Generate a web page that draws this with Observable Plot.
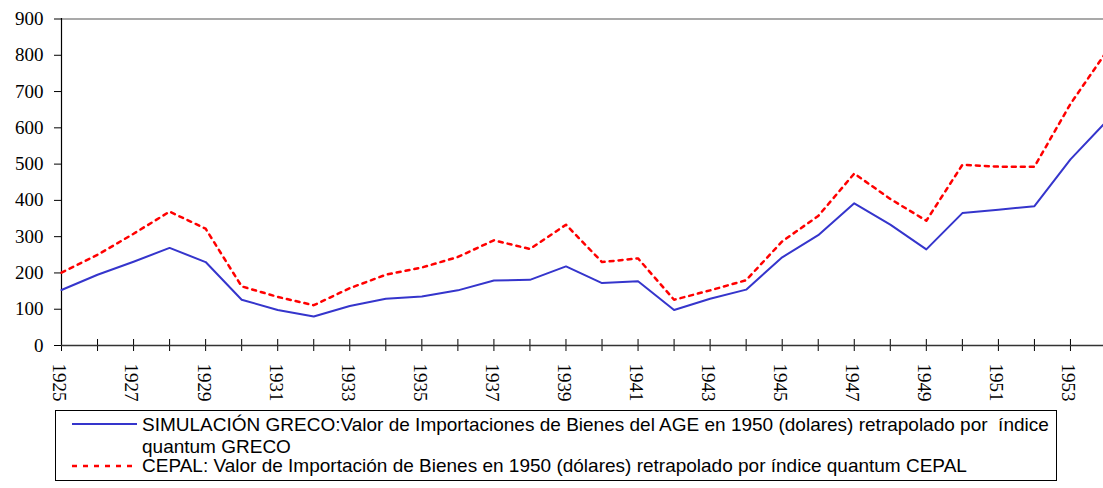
<!DOCTYPE html>
<html>
<head>
<meta charset="utf-8">
<script src="https://cdn.jsdelivr.net/npm/d3@7"></script>
<script src="https://cdn.jsdelivr.net/npm/@observablehq/plot@0.6"></script>
<style>
  html, body { margin: 0; padding: 0; background: #fff; overflow: hidden; }
  #wrap { position: relative; width: 1103px; height: 488px; }
  #chart svg { display: block; }
  #legend { position: absolute; left: 55px; top: 410px; width: 1002px; height: 71px;
            border: 1px solid #000; box-sizing: border-box; background: #fff; }
  .lg-text { position: absolute; font-family: "Liberation Sans", Arial, sans-serif; font-size: 19px;
             color: #000; white-space: pre; line-height: 16px; }
  .lg-swatch { position: absolute; }
</style>
</head>
<body>
<div id="wrap">
  <div id="chart"></div>
  <div id="legend"></div>
</div>
<script>
// ---- data ----
const years = [1925, 1926, 1927, 1928, 1929, 1930, 1931, 1932, 1933, 1934,
               1935, 1936, 1937, 1938, 1939, 1940, 1941, 1942, 1943, 1944,
               1945, 1946, 1947, 1948, 1949, 1950, 1951, 1952, 1953, 1954];
const greco = [153, 195, 231, 269, 230, 126, 98, 80, 109, 129,
               135, 152, 179, 181, 218, 172, 177, 98, 129, 154,
               243, 304, 392, 333, 265, 365, 374, 384, 513, 618];
const cepal = [201, 250, 308, 369, 322, 163, 134, 111, 158, 195,
               215, 244, 290, 266, 333, 230, 240, 126, 152, 180,
               287, 357, 474, 404, 344, 498, 493, 493, 666, 810];
const yTicks = [0, 100, 200, 300, 400, 500, 600, 700, 800, 900];
const xLabelYears = [1925, 1927, 1929, 1931, 1933, 1935, 1937, 1939, 1941, 1943, 1945, 1947, 1949, 1951, 1953];
const seriesNames = [
  ["SIMULACIÓN GRECO:Valor de Importaciones de Bienes del AGE en 1950 (dolares) retrapolado por  índice", "quantum GRECO"],
  ["CEPAL: Valor de Importación de Bienes en 1950 (dólares) retrapolado por índice quantum CEPAL"]
];
const seriesColors = ["#3535cc", "#ff0000"];

// ---- chart ----
const chart = Plot.plot({
  width: 1103,
  height: 408,
  marginLeft: 61,
  marginRight: 0,
  marginTop: 18,
  marginBottom: 63,
  x: { domain: [1925, 1954], range: [61, 1106] },
  y: { domain: [0, 900], range: [345, 18.5] },
  style: { fontFamily: "Liberation Serif", fontSize: "19px", color: "#000", background: "#fff" },
  marks: [
    Plot.ruleY([900], { stroke: "#8c8c8c", strokeWidth: 1.5 }),
    Plot.axisY({ ticks: yTicks, tickSize: 7, tickPadding: 11, tickFormat: d => String(d), label: null, fontSize: 19 }),
    Plot.ruleX([1925], { stroke: "#000", strokeWidth: 1.2 }),
    Plot.axisX({ ticks: years, tickSize: 12, dy: -6, tickFormat: () => "", label: null }),
    Plot.axisX({ ticks: xLabelYears, tickSize: 0, tickPadding: 18, tickRotate: 90, tickFormat: d => String(d), label: null, fontSize: 19, dx: -2 }),
    Plot.line(years, { x: years, y: greco, stroke: seriesColors[0], strokeWidth: 2 }),
    Plot.line(years, { x: years, y: cepal, stroke: seriesColors[1], strokeWidth: 2.5, strokeDasharray: "4,5" }),
    Plot.ruleY([0], { stroke: "#333", strokeWidth: 1.5 })
  ]
});
document.getElementById("chart").appendChild(chart);

// ---- legend ----
const legend = document.getElementById("legend");
const entries = [
  { lines: seriesNames[0], color: seriesColors[0], dash: null, sx1: 16, sx2: 81, sy: 13, tx: 86, baselines: [21, 43] },
  { lines: seriesNames[1], color: seriesColors[1], dash: "5,6", sx1: 16, sx2: 77, sy: 55, tx: 86, baselines: [62] }
];
entries.forEach(e => {
  const ns = "http://www.w3.org/2000/svg";
  const s = document.createElementNS(ns, "svg");
  s.setAttribute("class", "lg-swatch");
  s.setAttribute("width", 90); s.setAttribute("height", 8);
  s.style.left = "0px"; s.style.top = (e.sy - 4) + "px";
  const l = document.createElementNS(ns, "line");
  l.setAttribute("x1", e.sx1); l.setAttribute("x2", e.sx2);
  l.setAttribute("y1", 4); l.setAttribute("y2", 4);
  l.setAttribute("stroke", e.color);
  l.setAttribute("stroke-width", e.dash ? 2.5 : 2);
  if (e.dash) l.setAttribute("stroke-dasharray", e.dash);
  s.appendChild(l);
  legend.appendChild(s);
  e.lines.forEach((t, i) => {
    const d = document.createElement("div");
    d.className = "lg-text";
    d.textContent = t;
    d.style.left = e.tx + "px";
    d.style.top = (e.baselines[i] - 14.6) + "px";
    legend.appendChild(d);
  });
});
</script>
</body>
</html>
